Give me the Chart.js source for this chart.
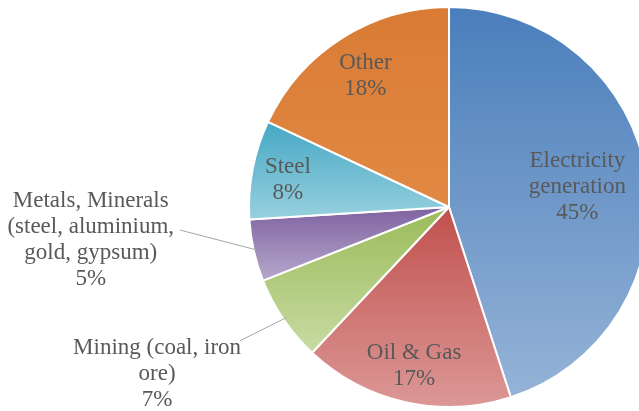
<!DOCTYPE html>
<html>
<head>
<meta charset="utf-8">
<script src="https://cdn.jsdelivr.net/npm/chart.js@4/dist/chart.umd.min.js"></script>
<style>
  html, body { margin: 0; padding: 0; background: #fff; overflow: hidden; }
  #wrap { position: absolute; left: 0; top: 0; width: 898px; height: 411px; }
</style>
</head>
<body>
<div id="wrap"><canvas id="pieChart"></canvas></div>
<script>
// Data
const categories = [
    ['Electricity', 'generation'],
    ['Oil & Gas'],
    ['Mining (coal, iron', 'ore)'],
    ['Metals, Minerals', '(steel, aluminium,', 'gold, gypsum)'],
    ['Steel'],
    ['Other']
];
const shares = [45, 17, 7, 5, 8, 18];

// gradient colours (top -> bottom of each slice)
const topColors = ['#4a7ebb', '#c0504d', '#9bbb59', '#7f62a1', '#45a8c4', '#d97b35'];
const bottomColors = ['#95b3d7', '#dc9896', '#c7dba3', '#b6a8cc', '#98d0df', '#e18944'];

// label placement: inside labels sit at a fraction of the radius on the mid angle,
// outside labels are shifted from the slice edge and get a leader line
const labelPlace = [
    { r: 0.65, dy: 0 },
    { r: 0.80, dy: 3 },
    { edge: true, dx: -129, dy: 56, lx: 83, ly: -33 },
    { edge: true, dx: -166, dy: -10, lx: 89, ly: -10 },
    { r: 0.82, dy: 4 },
    { r: 0.78, dy: 1 }
];

function sliceGradient(context) {
    const i = context.dataIndex;
    const arc = context.element;
    if (!arc || !arc.outerRadius) return topColors[i];
    const { x, y, startAngle, endAngle, outerRadius } = arc;
    let minY = y, maxY = y;
    [startAngle, endAngle].forEach(a => {
        const py = y + outerRadius * Math.sin(a);
        minY = Math.min(minY, py);
        maxY = Math.max(maxY, py);
    });
    [-Math.PI / 2, Math.PI / 2, 3 * Math.PI / 2].forEach(a => {
        if (a >= startAngle && a <= endAngle) {
            const py = y + outerRadius * Math.sin(a);
            minY = Math.min(minY, py);
            maxY = Math.max(maxY, py);
        }
    });
    const g = context.chart.ctx.createLinearGradient(0, minY, 0, maxY);
    g.addColorStop(0, topColors[i]);
    g.addColorStop(1, bottomColors[i]);
    return g;
}

const sliceLabels = {
    id: 'sliceLabels',
    afterDatasetsDraw(chart) {
        const ctx = chart.ctx;
        const meta = chart.getDatasetMeta(0);
        ctx.save();
        ctx.font = '23px "Liberation Serif", "Times New Roman", serif';
        ctx.fillStyle = '#595959';
        ctx.textAlign = 'center';
        ctx.textBaseline = 'middle';
        const lineH = 26;
        meta.data.forEach((arc, i) => {
            const mid = (arc.startAngle + arc.endAngle) / 2;
            const place = labelPlace[i];
            const lines = categories[i].concat([shares[i] + '%']);
            let cx, cy;
            if (place.edge) {
                // leader line ends just inside the slice edge
                const ex = arc.x + (arc.outerRadius - 3) * Math.cos(mid);
                const ey = arc.y + (arc.outerRadius - 3) * Math.sin(mid);
                cx = ex + place.dx;
                cy = ey + place.dy;
                ctx.strokeStyle = '#a6a6a6';
                ctx.lineWidth = 1;
                ctx.beginPath();
                ctx.moveTo(cx + place.lx, cy + place.ly);
                ctx.lineTo(ex, ey);
                ctx.stroke();
            } else {
                cx = arc.x + arc.outerRadius * place.r * Math.cos(mid);
                cy = arc.y + arc.outerRadius * place.r * Math.sin(mid) + place.dy;
            }
            const top = cy - (lines.length - 1) * lineH / 2;
            lines.forEach((t, k) => ctx.fillText(t, cx, top + k * lineH));
        });
        ctx.restore();
    }
};

const ctx = document.getElementById('pieChart').getContext('2d');
const pieChart = new Chart(ctx, {
    type: 'pie',
    data: {
        labels: categories.map(c => c.join(' ')),
        datasets: [{
            data: shares,
            backgroundColor: sliceGradient,
            borderColor: '#ffffff',
            borderWidth: 2,
            hoverOffset: 0
        }]
    },
    options: {
        responsive: true,
        maintainAspectRatio: false,
        animation: false,
        layout: { padding: { top: 6, bottom: 3, left: 0, right: 0 } },
        plugins: {
            legend: { display: false },
            tooltip: { enabled: false }
        }
    },
    plugins: [sliceLabels]
});
// second pass so the gradients can use the slice geometry
pieChart.update('none');
</script>
</body>
</html>
